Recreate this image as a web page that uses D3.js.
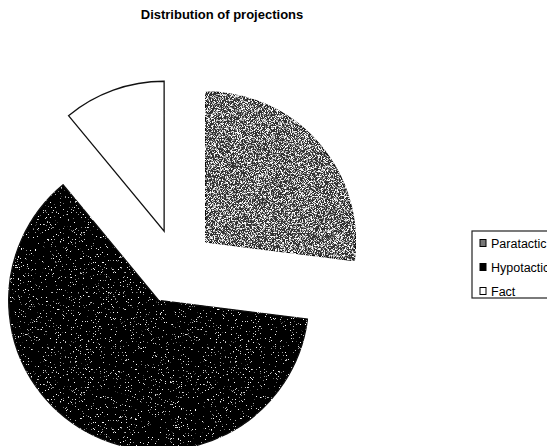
<!DOCTYPE html>
<html>
<head>
<meta charset="utf-8">
<script src="https://cdn.jsdelivr.net/npm/d3@7"></script>
<style>
  body { margin: 0; background: #fff; }
  svg { display: block; font-family: "Liberation Sans", Arial, sans-serif; }
</style>
</head>
<body>
<div class="pie-container"></div>
<script>
// data (share in %)
const categories = ['Paratactic', 'Hypotactic', 'Fact'];
const shares = [27, 62, 11];

const width = 547, height = 446;
const radius = 150;
const explode = 38;
const center = { x: 177, y: 267 };

const svg = d3.select('.pie-container').append('svg')
  .attr('width', width).attr('height', height);

// speckle textures like the scanned print
const defs = svg.append('defs');
function grainFilter(id, freq, slope, intercept, seed) {
  const f = defs.append('filter').attr('id', id)
    .attr('x', 0).attr('y', 0).attr('width', 1).attr('height', 1);
  f.append('feTurbulence').attr('type', 'fractalNoise')
    .attr('baseFrequency', freq).attr('numOctaves', 2).attr('seed', seed).attr('result', 'noise');
  f.append('feColorMatrix').attr('in', 'noise').attr('type', 'matrix')
    .attr('values', `0 0 0 0 1  0 0 0 0 1  0 0 0 0 1  ${slope} 0 0 0 ${intercept}`)
    .attr('result', 'specks');
  f.append('feComposite').attr('in', 'specks').attr('in2', 'SourceGraphic')
    .attr('operator', 'in').attr('result', 'clipped');
  const m = f.append('feMerge');
  m.append('feMergeNode').attr('in', 'SourceGraphic');
  m.append('feMergeNode').attr('in', 'clipped');
}
grainFilter('grain-gray', 1.3, 6, -2.9, 3);
grainFilter('grain-black', 1.6, 12, -8.2, 7);

const style = [
  { fill: '#333', filter: 'url(#grain-gray)' },
  { fill: '#000', filter: 'url(#grain-black)' },
  { fill: '#fff', filter: null }
];

const pieData = d3.pie().sort(null).value(d => d.value)(
  categories.map((c, i) => ({ name: c, value: shares[i] }))
);
const arcGen = d3.arc().innerRadius(0).outerRadius(radius);

const g = svg.append('g').attr('transform', `translate(${center.x},${center.y})`);
g.selectAll('.slice').data(pieData).enter()
  .append('path').attr('class', 'slice')
  .attr('transform', d => {
    const a = (d.startAngle + d.endAngle) / 2;
    return `translate(${explode * Math.sin(a)},${-explode * Math.cos(a)})`;
  })
  .attr('d', arcGen)
  .attr('fill', (d, i) => style[i].fill)
  .attr('filter', (d, i) => style[i].filter)
  .attr('stroke', '#111').attr('stroke-width', 1.3);

// title
svg.append('text').attr('x', 222).attr('y', 19)
  .attr('text-anchor', 'middle')
  .style('font-size', '13px').style('font-weight', 'bold')
  .text('Distribution of projections');

// legend
const legend = svg.append('g').attr('transform', 'translate(472,231)');
legend.append('rect').attr('x', 0).attr('y', 0).attr('width', 100).attr('height', 67)
  .attr('fill', '#fff').attr('stroke', '#222').attr('stroke-width', 1.2);
const item = legend.selectAll('.item').data(categories).enter()
  .append('g').attr('class', 'item')
  .attr('transform', (d, i) => `translate(8,${12 + i * 24})`);
item.append('rect').attr('x', 0).attr('y', -3.5).attr('width', 6).attr('height', 7)
  .attr('fill', (d, i) => i === 0 ? '#777' : style[i].fill)
  .attr('stroke', '#000').attr('stroke-width', 1);
item.append('text').attr('x', 11).attr('y', 4.5)
  .style('font-size', '12.5px')
  .text(d => d);
</script>
</body>
</html>
